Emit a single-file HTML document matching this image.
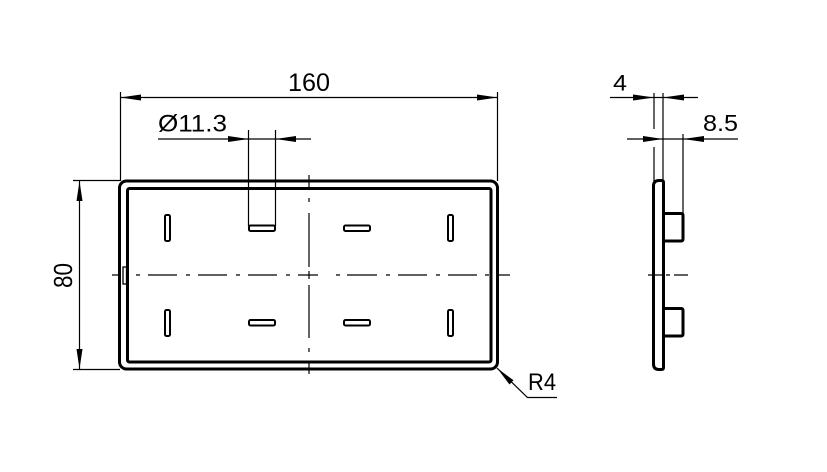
<!DOCTYPE html>
<html><head><meta charset="utf-8"><style>
html,body{margin:0;padding:0;background:#fff;}
svg{display:block;}
text{font-family:"Liberation Sans",sans-serif;fill:#000;}
</style></head><body>
<svg width="827" height="472" viewBox="0 0 827 472" xmlns="http://www.w3.org/2000/svg">
<rect width="827" height="472" fill="#fff"/>
<g stroke="#000" fill="none" stroke-width="1.2">
<!-- 160 dimension -->
<line x1="120.5" y1="92" x2="120.5" y2="181"/>
<line x1="497.5" y1="92" x2="497.5" y2="181"/>
<line x1="121" y1="97.5" x2="497" y2="97.5"/>
<!-- Ø11.3 -->
<line x1="158" y1="139" x2="311" y2="139"/>
<line x1="248.5" y1="130" x2="248.5" y2="226"/>
<line x1="275.5" y1="130" x2="275.5" y2="226"/>
<!-- 80 -->
<line x1="73" y1="180.5" x2="120" y2="180.5"/>
<line x1="73" y1="369.5" x2="120" y2="369.5"/>
<line x1="79.5" y1="181" x2="79.5" y2="369"/>
<!-- R4 leader -->
<polyline points="497,368 527.5,397.5 557,397.5"/>
<!-- side dims -->
<line x1="610" y1="97.5" x2="698" y2="97.5"/>
<line x1="627" y1="139" x2="738" y2="139"/>
<line x1="654" y1="93" x2="654" y2="129"/>
<line x1="654" y1="147" x2="654" y2="181"/>
<line x1="663" y1="93" x2="663" y2="181"/>
<line x1="683" y1="134" x2="683" y2="213"/>
<!-- centerlines -->
<path d="M112 275H119M136 275H140M148 275H177M186 275H190M198 275H227M236 275H240M248 275H277M286 275H290M298 275H318M336 275H340M347 275H377M386 275H390M398 275H427M436 275H440M448 275H477M485 275H489M498 275H510"/>
<path d="M309 175V187M309 198V202M309 213V267M309 271V279M309 285V338M309 348V352M309 362V374"/>
<path d="M648 275H662M666 275H670M674 275H688"/>
</g>
<!-- arrowheads -->
<g fill="#000" stroke="none">
<polygon points="120.5,97.5 141,94.5 141,100.5"/>
<polygon points="497.5,97.5 477,94.5 477,100.5"/>
<polygon points="248.5,139 228,136 228,142"/>
<polygon points="275.5,139 296,136 296,142"/>
<polygon points="79.5,181 76.5,201 82.5,201"/>
<polygon points="79.5,369 76.5,349 82.5,349"/>
<polygon points="497,368 509.5,384.5 513.5,380.3"/>
<polygon points="654,97.5 633,94.5 633,100.5"/>
<polygon points="663,97.5 684,94.5 684,100.5"/>
<polygon points="663,139 643,136 643,142"/>
<polygon points="683,139 704,136 704,142"/>
</g>
<!-- main plate -->
<g stroke="#000" fill="none" stroke-width="3">
<rect x="119.5" y="181" width="378" height="188" rx="7"/>
<rect x="127.5" y="188.5" width="363.5" height="173.5" rx="2"/>
</g>
<rect x="123" y="267" width="3.5" height="17" fill="#fff" stroke="#000" stroke-width="1.3"/>
<!-- slots -->
<g stroke="#000" fill="#fff" stroke-width="2">
<rect x="165" y="215" width="5" height="26" rx="1.5"/>
<rect x="165" y="310" width="5" height="26" rx="1.5"/>
<rect x="448" y="215" width="5" height="26" rx="1.5"/>
<rect x="448" y="310" width="5" height="26" rx="1.5"/>
<rect x="249" y="225.5" width="26" height="5.5" rx="1.5"/>
<rect x="249" y="320" width="26" height="5.5" rx="1.5"/>
<rect x="344" y="225.5" width="26" height="5.5" rx="1.5"/>
<rect x="344" y="320" width="26" height="5.5" rx="1.5"/>
</g>
<!-- side view -->
<g stroke="#000" fill="none" stroke-width="3">
<path d="M659 180.5 L661.5 180.5 Q663.5 180.5 663.5 182.5 L663.5 367.5 Q663.5 369.5 661.5 369.5 L659 369.5 Q653.5 369.5 653.5 364 L653.5 186 Q653.5 180.5 659 180.5 Z"/>
<path d="M663.5 213.5 L681 213.5 Q683 213.5 683 215.5 L683 239 Q683 241 681 241 L663.5 241"/>
<path d="M663.5 308.5 L681 308.5 Q683 308.5 683 310.5 L683 334 Q683 336 681 336 L663.5 336"/>
</g>
<!-- labels -->
<text x="288" y="91" font-size="25" textLength="42" lengthAdjust="spacingAndGlyphs">160</text>
<text x="158" y="131.5" font-size="24" textLength="69" lengthAdjust="spacingAndGlyphs">Ø11.3</text>
<text transform="translate(72,288) rotate(-90)" font-size="26" textLength="25" lengthAdjust="spacingAndGlyphs">80</text>
<text x="528" y="390" font-size="24" textLength="28" lengthAdjust="spacingAndGlyphs">R4</text>
<text x="613" y="90.5" font-size="22" textLength="14" lengthAdjust="spacingAndGlyphs">4</text>
<text x="703" y="131" font-size="23" textLength="35" lengthAdjust="spacingAndGlyphs">8.5</text>
</svg>
</body></html>
